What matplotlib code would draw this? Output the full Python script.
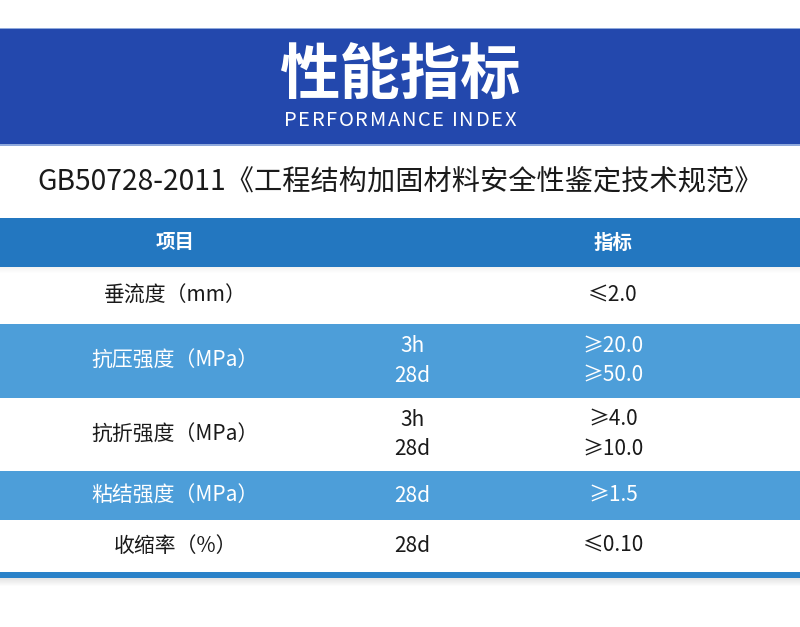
import matplotlib
matplotlib.use("Agg")
import matplotlib.pyplot as plt
from matplotlib.patches import Rectangle
from matplotlib.font_manager import FontProperties
from matplotlib.textpath import TextToPath

plt.rcParams['font.family'] = ['Noto Sans CJK SC', 'DejaVu Sans']

# table content
title = "性能指标"
subtitle_en = "PERFORMANCE INDEX"
standard = "GB50728-2011《工程结构加固材料安全性鉴定技术规范》"
headers = ["项目", "指标"]
items = ["垂流度（mm）", "抗压强度（MPa）", "抗折强度（MPa）", "粘结强度（MPa）", "收缩率（%）"]
ages = [[""], ["3h", "28d"], ["3h", "28d"], ["28d"], ["28d"]]
specs = [["≤2.0"], ["≥20.0", "≥50.0"], ["≥4.0", "≥10.0"], ["≥1.5"], ["≤0.10"]]

# layout (pixel units)
W, H = 800, 627
row_edges = [267, 324, 398, 471, 520, 572]
col_x = [175, 412, 613]
banner_blue = "#2348ad"
header_blue = "#2377c0"
row_blue = "#4d9ed9"
bar_blue = "#2a82c9"

fig = plt.figure(figsize=(8, 6.27), dpi=100)
ax = fig.add_axes([0, 0, 1, 1])
ax.set_xlim(0, W)
ax.set_ylim(H, 0)
ax.axis("off")

# top banner
ax.add_patch(Rectangle((0, 27.5), W, 1.5, color="#8fa9dc", lw=0))
ax.add_patch(Rectangle((0, 29), W, 115, color=banner_blue, lw=0))
ax.add_patch(Rectangle((0, 144), W, 1.5, color="#8fa9dc", lw=0))
ax.text(W / 2, 76, title, color="white", fontsize=43.5, fontweight="bold",
        ha="center", va="center")

# spaced-out english subtitle, letter by letter
prop = FontProperties(family="Noto Sans CJK SC", weight="light", size=14.5)
ttp = TextToPath()
px = 100 / 72
spacing = 1.6
adv = [ttp.get_text_width_height_descent(subtitle_en[:i], prop, ismath=False)[0] * px
       for i in range(len(subtitle_en) + 1)]
total = adv[-1] + spacing * (len(subtitle_en) - 1)
x0 = W / 2 - total / 2
for i, ch in enumerate(subtitle_en):
    ax.text(x0 + adv[i] + spacing * i, 120, ch, color="white", fontproperties=prop,
            ha="left", va="center")

# standard name
ax.text(W / 2, 181, standard, color="#1a1a1a", fontsize=20.3,
        ha="center", va="center")

# header row with soft shadow
for i in range(6):
    ax.add_patch(Rectangle((0, 267 + i), W, 1, color="black", alpha=0.05 * (6 - i) / 6, lw=0))
ax.add_patch(Rectangle((0, 218), W, 49, color=header_blue, lw=0))
ax.text(col_x[0], 243, headers[0], color="white", fontsize=14, fontweight="bold",
        ha="center", va="center")
ax.text(col_x[2], 243, headers[1], color="white", fontsize=14, fontweight="bold",
        ha="center", va="center")

# body rows
for r, (item, age, spec) in enumerate(zip(items, ages, specs)):
    top, bottom = row_edges[r], row_edges[r + 1]
    filled = r % 2 == 1
    if filled:
        ax.add_patch(Rectangle((0, top), W, bottom - top, color=row_blue, lw=0))
    tc = "white" if filled else "#1a1a1a"
    mid = (top + bottom) / 2
    ax.text(col_x[0], mid, item, color=tc, fontsize=15, ha="center", va="center")
    n = len(spec)
    for k in range(n):
        y = mid + (k - (n - 1) / 2) * 29.5
        if age[k]:
            ax.text(col_x[1], y, age[k], color=tc, fontsize=15, ha="center", va="center")
        ax.text(col_x[2], y, spec[k], color=tc, fontsize=15, ha="center", va="center")

# bottom bar with shadow
for i in range(9):
    ax.add_patch(Rectangle((0, 577 + i), W, 1, color="black", alpha=0.12 * (9 - i) / 9, lw=0))
ax.add_patch(Rectangle((0, 572), W, 5.5, color=bar_blue, lw=0))

fig.savefig("out.png", dpi=100)
